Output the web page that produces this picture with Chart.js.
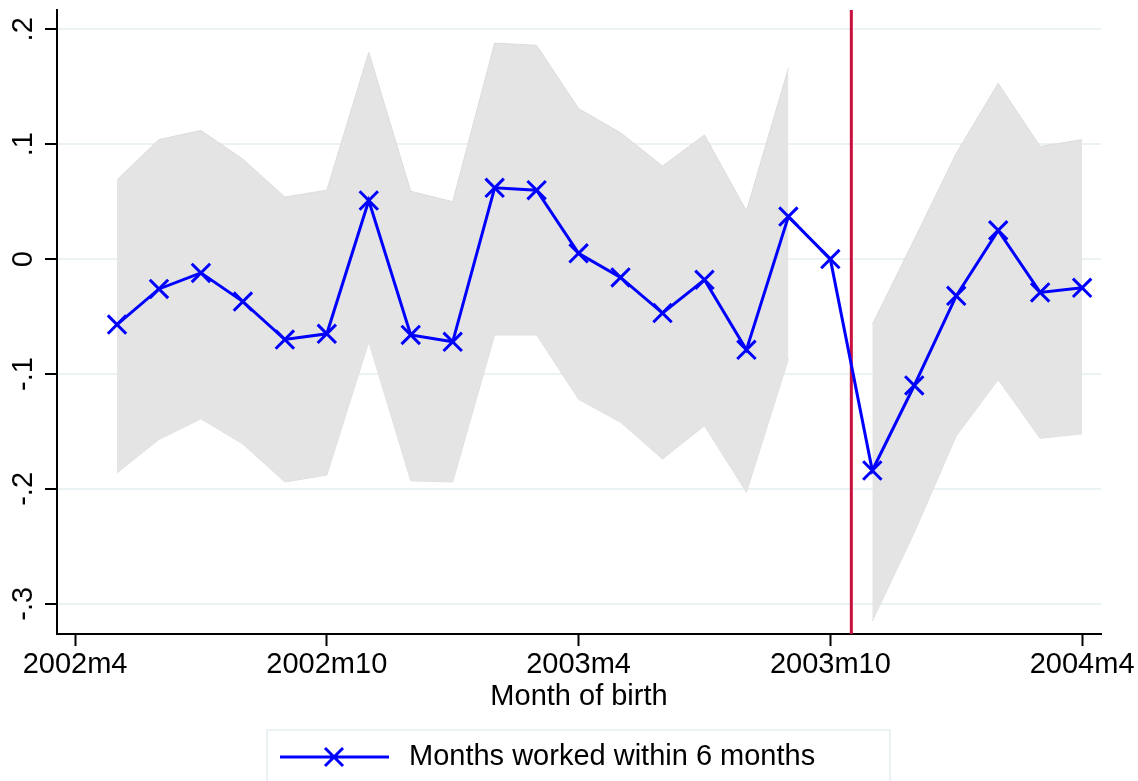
<!DOCTYPE html>
<html>
<head>
<meta charset="utf-8">
<script src="https://cdn.jsdelivr.net/npm/chart.js@4.4.0/dist/chart.umd.min.js"></script>
<style>
  html, body { margin: 0; padding: 0; background: #fff; }
  canvas { display: block; }
</style>
</head>
<body>
<canvas id="chart" width="1138" height="781"></canvas>
<script>
// mois de naissance (2002m5 .. 2004m4), x = nombre de mois depuis 2002m4
const months = ['2002m5','2002m6','2002m7','2002m8','2002m9','2002m10','2002m11','2002m12',
  '2003m1','2003m2','2003m3','2003m4','2003m5','2003m6','2003m7','2003m8','2003m9','2003m10',
  '2003m11','2003m12','2004m1','2004m2','2004m3','2004m4'];
const coef = [-0.057, -0.026, -0.012, -0.037, -0.070, -0.065, 0.051, -0.066,
  -0.072, 0.062, 0.060, 0.005, -0.016, -0.047, -0.018, -0.079, 0.037, 0.000,
  -0.184, -0.110, -0.032, 0.025, -0.029, -0.025];
const ciUpper = [0.069, 0.104, 0.112, 0.087, 0.054, 0.060, 0.180, 0.059,
  0.050, 0.188, 0.186, 0.131, 0.110, 0.081, 0.108, 0.042, 0.166, null,
  -0.057, 0.017, 0.092, 0.153, 0.098, 0.104];
const ciLower = [-0.186, -0.157, -0.139, -0.161, -0.194, -0.188, -0.072, -0.193,
  -0.194, -0.066, -0.066, -0.122, -0.142, -0.174, -0.145, -0.203, -0.087, null,
  -0.315, -0.238, -0.154, -0.105, -0.156, -0.152];
const xTickValues = [0, 6, 12, 18, 24];
const xTickLabels = ['2002m4', '2002m10', '2003m4', '2003m10', '2004m4'];
const yTickValues = [0.2, 0.1, 0, -0.1, -0.2, -0.3];
const yTickLabels = ['.2', '.1', '0', '-.1', '-.2', '-.3'];
const cutoff = 18.5;

const FONT = "'Liberation Sans', Arial, Helvetica, sans-serif";
const monthIndex = m => {
  const [y, mm] = m.split('m').map(Number);
  return (y - 2002) * 12 + mm - 4;
};
const toPoints = vals => months.map((m, i) => ({ x: monthIndex(m), y: vals[i] }));

// Ligne verticale rouge (seuil)
const cutoffLine = {
  id: 'cutoffLine',
  beforeDatasetsDraw(chart) {
    const ctx = chart.ctx;
    const x = chart.scales.x.getPixelForValue(cutoff);
    const { top, bottom } = chart.chartArea;
    ctx.save();
    ctx.strokeStyle = '#c90f3d';
    ctx.lineWidth = 3;
    ctx.beginPath();
    ctx.moveTo(x, top);
    ctx.lineTo(x, bottom);
    ctx.stroke();
    ctx.restore();
  }
};

// Légende encadrée en bas
const legendBox = {
  id: 'legendBox',
  afterDraw(chart) {
    const ctx = chart.ctx;
    const ds = chart.data.datasets[0];
    ctx.save();
    ctx.fillStyle = '#fff';
    ctx.fillRect(267, 730, 623, 60);
    ctx.strokeStyle = '#eaf2f3';
    ctx.lineWidth = 2;
    ctx.strokeRect(267, 730, 623, 60);
    ctx.strokeStyle = ds.borderColor;
    ctx.lineWidth = 3;
    ctx.beginPath();
    ctx.moveTo(280, 757);
    ctx.lineTo(389, 757);
    ctx.moveTo(334 - 9, 757 - 9);
    ctx.lineTo(334 + 9, 757 + 9);
    ctx.moveTo(334 - 9, 757 + 9);
    ctx.lineTo(334 + 9, 757 - 9);
    ctx.stroke();
    ctx.fillStyle = '#000';
    ctx.font = '29px ' + FONT;
    ctx.textBaseline = 'middle';
    ctx.textAlign = 'left';
    ctx.fillText(ds.label, 409, 757);
    ctx.restore();
  }
};

new Chart(document.getElementById('chart'), {
  type: 'line',
  data: {
    datasets: [
      {
        label: 'Months worked within 6 months',
        data: toPoints(coef),
        borderColor: '#0000ff',
        borderWidth: 3,
        pointStyle: 'crossRot',
        pointRadius: 13,
        pointBorderWidth: 3,
        pointBorderColor: '#0000ff',
        fill: false,
        tension: 0
      },
      {
        label: 'upper',
        data: toPoints(ciUpper),
        borderColor: '#dcdcdc',
        borderWidth: 1,
        backgroundColor: '#e4e4e4',
        pointRadius: 0,
        fill: '+1',
        spanGaps: false,
        tension: 0
      },
      {
        label: 'lower',
        data: toPoints(ciLower),
        borderColor: '#dcdcdc',
        borderWidth: 1,
        pointRadius: 0,
        fill: false,
        spanGaps: false,
        tension: 0
      }
    ]
  },
  options: {
    responsive: false,
    animation: false,
    layout: { autoPadding: false, padding: { top: 10, right: 37, left: 0, bottom: 0 } },
    plugins: {
      legend: { display: false },
      tooltip: { enabled: false }
    },
    scales: {
      x: {
        type: 'linear',
        min: -0.43,
        max: 24.45,
        afterBuildTicks: s => { s.ticks = xTickValues.map(v => ({ value: v })); },
        afterFit: s => { s.height = 147; s.paddingLeft = 0; s.paddingRight = 0; },
        ticks: {
          callback: v => xTickLabels[xTickValues.indexOf(v)],
          color: '#000',
          font: { family: FONT, size: 29 },
          padding: 2,
          maxRotation: 0,
          autoSkip: false
        },
        grid: {
          drawOnChartArea: false,
          drawTicks: true,
          tickLength: 12,
          tickColor: '#000',
          tickWidth: 2
        },
        border: { display: true, color: '#000', width: 2 },
        title: {
          display: true,
          text: 'Month of birth',
          color: '#000',
          font: { family: FONT, size: 29 },
          padding: { top: 0, bottom: 67 }
        }
      },
      y: {
        min: -0.3263,
        max: 0.2168,
        afterBuildTicks: s => { s.ticks = yTickValues.map(v => ({ value: v })); },
        afterFit: s => { s.width = 57; s.paddingTop = 0; s.paddingBottom = 0; },
        ticks: {
          callback: v => yTickLabels[yTickValues.indexOf(v)],
          color: '#000',
          font: { family: FONT, size: 29 },
          minRotation: 90,
          maxRotation: 90,
          crossAlign: 'center',
          padding: 4
        },
        grid: {
          color: '#eaf2f3',
          lineWidth: 2,
          drawTicks: true,
          tickLength: 12,
          tickColor: '#000',
          tickWidth: 2
        },
        border: { display: true, color: '#000', width: 2 }
      }
    }
  },
  plugins: [cutoffLine, legendBox]
});
</script>
</body>
</html>
